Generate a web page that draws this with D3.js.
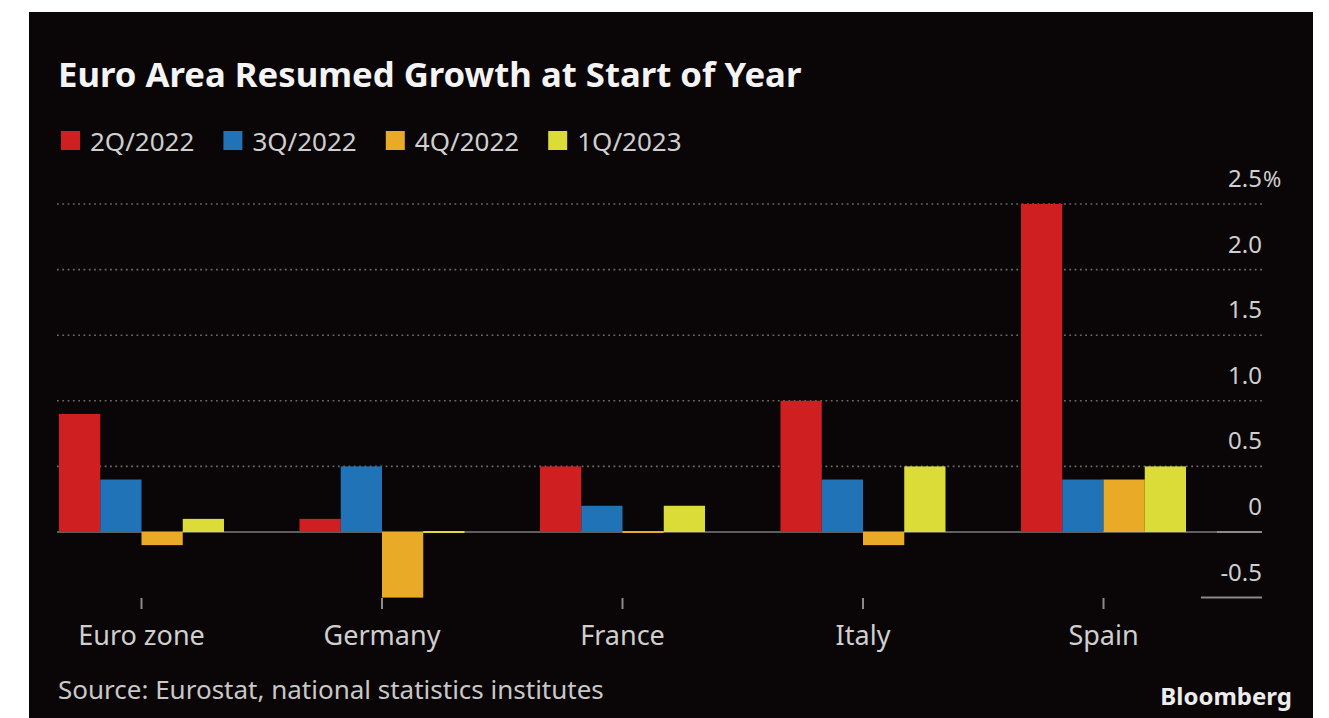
<!DOCTYPE html>
<html>
<head>
<meta charset="utf-8">
<script src="https://cdn.jsdelivr.net/npm/d3@7"></script>
<style>
  html, body { margin: 0; padding: 0; background: #ffffff; }
  svg { display: block; }
  text { font-family: "Noto Sans", "Open Sans", sans-serif; }
</style>
</head>
<body>
<div id="chart"></div>
<script>
// Quarterly GDP growth, % change from previous quarter
const categories = ["Euro zone", "Germany", "France", "Italy", "Spain"];
const seriesNames = ["2Q/2022", "3Q/2022", "4Q/2022", "1Q/2023"];
const q2_2022 = [0.9, 0.1, 0.5, 1.0, 2.5];
const q3_2022 = [0.4, 0.5, 0.2, 0.4, 0.4];
const q4_2022 = [-0.1, -0.5, 0.0, -0.1, 0.4];
const q1_2023 = [0.1, 0.0, 0.2, 0.5, 0.5];
const seriesColors = ["#d01f21", "#2173b7", "#e9aa27", "#dcdc38"];
const yTicks = [-0.5, 0, 0.5, 1.0, 1.5, 2.0, 2.5];

const title = "Euro Area Resumed Growth at Start of Year";
const source = "Source: Eurostat, national statistics institutes";

const W = 1329, H = 718;
const svg = d3.select("#chart").append("svg")
  .attr("width", W).attr("height", H);

// dark panel
svg.append("rect").attr("x", 29).attr("y", 12)
  .attr("width", 1284).attr("height", H - 12).attr("fill", "#0a0507");

const seriesValues = [q2_2022, q3_2022, q4_2022, q1_2023];

const x = d3.scaleBand().domain(categories).range([59, 1186])
  .paddingInner(0.314).paddingOuter(0);
const xs = d3.scaleBand().domain(seriesNames).range([0, x.bandwidth()]);
const y = d3.scaleLinear().domain([-0.5, 2.5]).range([597.6, 204]);

const gridLeft = 57, gridRight = 1262;

// title
svg.append("text").attr("x", 58).attr("y", 87)
  .attr("fill", "#f4f4f4").attr("font-size", 34.7).attr("font-weight", 700)
  .text(title);

// legend
const legend = svg.append("g").selectAll("g").data(seriesNames).join("g")
  .attr("transform", (d, i) => `translate(${61 + i * 162.4},0)`);
legend.append("rect").attr("x", 0).attr("y", 131).attr("width", 19).attr("height", 19)
  .attr("fill", (d, i) => seriesColors[i]);
legend.append("text").attr("x", 29).attr("y", 151)
  .attr("fill", "#cfcfcf").attr("font-size", 26).text(d => d);

// horizontal gridlines
const gridG = svg.append("g");
gridG.selectAll("line.grid").data(yTicks.filter(v => v > 0)).join("line")
  .attr("class", "grid")
  .attr("x1", gridLeft).attr("x2", gridRight)
  .attr("y1", d => y(d)).attr("y2", d => y(d))
  .attr("stroke", "#6a6a6a").attr("stroke-width", 1.6)
  .attr("stroke-dasharray", "1.8,3.5");
// zero line
gridG.append("line")
  .attr("x1", gridLeft).attr("x2", gridRight)
  .attr("y1", y(0)).attr("y2", y(0))
  .attr("stroke", "#5e5e5e").attr("stroke-width", 2);
gridG.append("line")
  .attr("x1", 1217).attr("x2", gridRight)
  .attr("y1", y(0)).attr("y2", y(0))
  .attr("stroke", "#8a8a8a").attr("stroke-width", 2);
// short baseline at the bottom of the scale
gridG.append("line")
  .attr("x1", 1201).attr("x2", gridRight)
  .attr("y1", y(-0.5)).attr("y2", y(-0.5))
  .attr("stroke", "#8a8a8a").attr("stroke-width", 2);

// y labels; the top one carries the unit
const fmt = v => v === 0 ? "0" : d3.format(".1f")(v).replace("\u2212", "-");
const yLabels = svg.append("g").selectAll("text").data(yTicks).join("text")
  .attr("x", gridRight).attr("y", d => y(d) - 17)
  .attr("text-anchor", "end").attr("fill", "#cfcfcf").attr("font-size", 24)
  .text(fmt);
yLabels.filter(d => d === d3.max(yTicks)).append("tspan")
  .attr("x", gridRight + 1).attr("text-anchor", "start")
  .attr("font-size", 22).text("%");

// bars
const bars = [];
categories.forEach((c, ci) => {
  seriesNames.forEach((s, si) => {
    bars.push({ cat: c, ser: s, si, value: seriesValues[si][ci] });
  });
});
const y0 = y(0);
svg.append("g").selectAll("rect").data(bars).join("rect")
  .attr("x", d => x(d.cat) + xs(d.ser))
  .attr("width", xs.bandwidth())
  .attr("y", d => d.value === 0 ? y0 - 1 : Math.min(y(d.value), y0))
  .attr("height", d => d.value === 0 ? 2 : Math.abs(y(d.value) - y0))
  .attr("fill", d => seriesColors[d.si]);

// x ticks and labels
const xg = svg.append("g").selectAll("g").data(categories).join("g")
  .attr("transform", d => `translate(${x(d) + x.bandwidth() / 2},0)`);
xg.append("line").attr("y1", 598).attr("y2", 609)
  .attr("stroke", "#8a8a8a").attr("stroke-width", 2);
xg.append("text").attr("y", 645).attr("text-anchor", "middle")
  .attr("fill", "#cfcfcf").attr("font-size", 27).text(d => d);

// footer
svg.append("text").attr("x", 58).attr("y", 699)
  .attr("fill", "#c8c8c8").attr("font-size", 26).text(source);
svg.append("text").attr("x", 1292).attr("y", 705).attr("text-anchor", "end")
  .attr("fill", "#ececec").attr("font-size", 24).attr("font-weight", 700)
  .text("Bloomberg");
</script>
</body>
</html>
